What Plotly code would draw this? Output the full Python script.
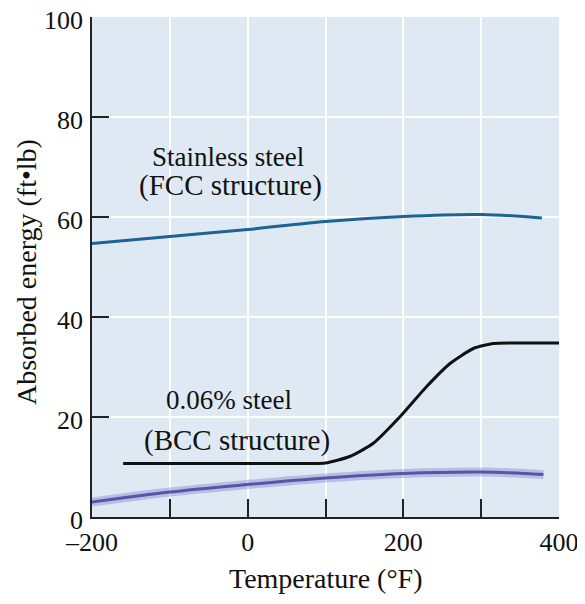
import plotly.graph_objects as go

# Stainless steel (FCC)
fcc_t = [-200, -100, 0, 100, 200, 300, 378]
fcc_e = [54.7, 56.1, 57.5, 59.1, 60.1, 60.5, 59.8]

# 0.06% steel (BCC)
bcc_t = [-160, 0, 80, 100, 131, 161, 196, 230, 260, 290, 316, 340, 400]
bcc_e = [10.7, 10.7, 10.7, 10.8, 12.1, 14.7, 20.1, 26.1, 30.7, 33.7, 34.7, 34.8, 34.8]

# Lower purple curve
low_t = [-200, -100, 0, 100, 200, 300, 380]
low_e = [3.0, 5.0, 6.5, 7.8, 8.7, 9.0, 8.5]

x_ticks = [-200, -100, 0, 100, 200, 300, 400]
x_labels = ["\u2013200", "", "0", "", "200", "", "400"]
y_ticks = [0, 20, 40, 60, 80, 100]

serif = "Liberation Serif, Times New Roman, serif"

fig = go.Figure()
fig.add_trace(go.Scatter(x=low_t, y=low_e, mode="lines", line=dict(color="rgba(110,110,200,0.35)", width=9, shape="spline"), hoverinfo="skip"))
fig.add_trace(go.Scatter(x=low_t, y=low_e, mode="lines", line=dict(color="#5656a6", width=3, shape="spline")))
fig.add_trace(go.Scatter(x=fcc_t, y=fcc_e, mode="lines", line=dict(color="#1d6393", width=3, shape="spline")))
fig.add_trace(go.Scatter(x=bcc_t, y=bcc_e, mode="lines", line=dict(color="#111111", width=3, shape="spline", smoothing=0.6)))

ann = [
    ("Stainless steel", -25, 72.0, 27),
    ("(FCC structure)", -22, 66.4, 29),
    ("0.06% steel", -24, 23.4, 27),
    ("(BCC structure)", -14, 15.4, 29),
]
for t, x, y, s in ann:
    fig.add_annotation(x=x, y=y, text=t, showarrow=False, font=dict(family=serif, size=s, color="#111111"), xanchor="center", yanchor="middle")

# pixel positions (relative to reference plot area) -> paper coords
L, T, W, H = 92, 17, 467, 500
def px2paper(px, py):
    return (px - L) / W, 1 - (py - T) / H

xa, ya = px2paper(325, 578)
fig.add_annotation(xref="paper", yref="paper", x=xa, y=ya, text="Temperature (\u00b0F)", showarrow=False,
                   font=dict(family=serif, size=28, color="#111111"), xanchor="center", yanchor="middle")
xa, ya = px2paper(26, 272)
fig.add_annotation(xref="paper", yref="paper", x=xa, y=ya, text="Absorbed energy (ft\u2022lb)", showarrow=False,
                   textangle=-90, font=dict(family=serif, size=28, color="#111111"), xanchor="center", yanchor="middle")

fig.update_layout(
    width=585, height=604,
    margin=dict(l=84, r=34, t=9, b=95, autoexpand=False),
    paper_bgcolor="white",
    plot_bgcolor="#dfe9f4",
    showlegend=False,
    font=dict(family=serif, color="#111111"),
)
fig.update_xaxes(
    range=[-200, 400], tickvals=x_ticks, ticktext=x_labels,
    ticks="inside", ticklen=18, tickwidth=1.5, tickcolor="#222",
    showline=True, linecolor="#222", linewidth=1.5,
    showgrid=True, gridcolor="white", gridwidth=1.5,
    zeroline=False, tickfont=dict(size=26, family=serif),
    automargin=False, ticklabelstandoff=1, ticklabeloverflow="allow",
)
fig.update_yaxes(
    range=[0, 100], tickvals=y_ticks,
    ticks="inside", ticklen=17, tickwidth=1.5, tickcolor="#222",
    showline=True, linecolor="#222", linewidth=1.5,
    showgrid=True, gridcolor="white", gridwidth=1.5,
    zeroline=False, tickfont=dict(size=26, family=serif),
    automargin=False, ticklabelstandoff=2, ticklabelshift=3, ticklabeloverflow="allow",
)

fig.write_html("out.html")
